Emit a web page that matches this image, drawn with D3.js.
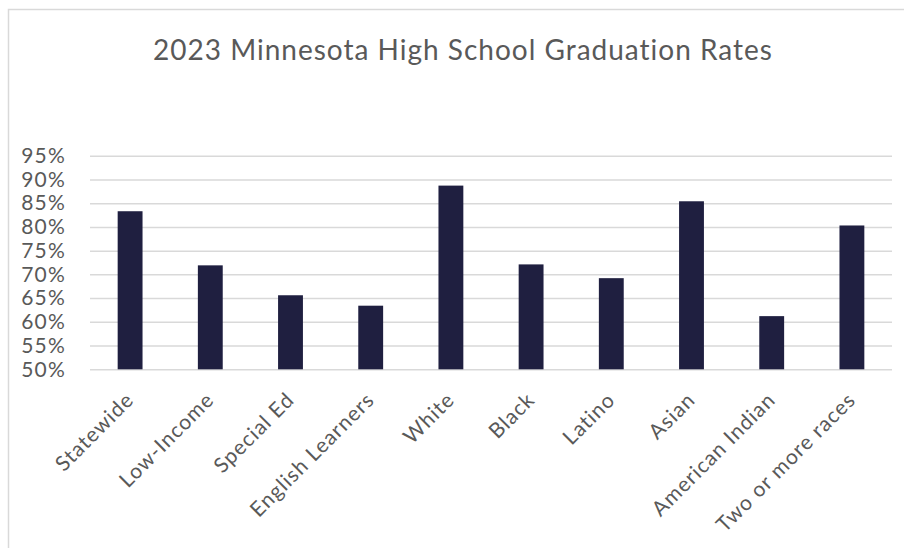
<!DOCTYPE html>
<html>
<head>
<meta charset="utf-8">
<script src="https://cdn.jsdelivr.net/npm/d3@7"></script>
<style>
	body { margin: 0; background: #fff; }
	text { font-family: Lato, "Open Sans", sans-serif; fill: #595959; }
</style>
</head>
<body>
<div id="chart"></div>
<script>
var categories = ["Statewide", "Low-Income", "Special Ed", "English Learners", "White",
	"Black", "Latino", "Asian", "American Indian", "Two or more races"]
var rates = [83.3, 71.9, 65.6, 63.4, 88.7, 72.1, 69.2, 85.4, 61.2, 80.3]
var yTicks = [50, 55, 60, 65, 70, 75, 80, 85, 90, 95]
var chartTitle = "2023 Minnesota High School Graduation Rates"

;(function() {
	var w = 904, h = 548,
		margins = {top: 155.7, bottom: 369.3, left: 90, right: 892},
		barColor = "#1f1f40",
		gridColor = "#d9d9d9",
		svg = d3.select("#chart").append("svg")
			.attr("width", w)
			.attr("height", h)

	var data = categories.map((c, i) => ({category: c, rate: rates[i]}))

	// chart frame (only the left and top edges are inside the picture)
	svg.append("path")
		.attr("d", "M8.5," + h + "V9.5H" + w)
		.attr("fill", "none")
		.attr("stroke", gridColor)
		.attr("stroke-width", 1.5)

	svg.append("text")
		.attr("x", 463)
		.attr("y", 60)
		.attr("text-anchor", "middle")
		.style("font-size", "28px")
		.style("letter-spacing", "1px")
		.text(chartTitle)

	var x = d3.scaleBand()
		.domain(categories)
		.range([margins.left, margins.right])
		.paddingInner(0.69)
		.paddingOuter(0.345)

	var y = d3.scaleLinear()
		.domain([50, 95])
		.range([margins.bottom, margins.top])

	// gridlines + y labels
	var yAxis = d3.axisLeft(y)
		.tickValues(yTicks)
		.tickSize(-(margins.right - margins.left))
		.tickPadding(24)
		.tickFormat(d => d + "%")

	svg.append("g")
		.attr("transform", "translate(" + margins.left + ",0)")
		.call(yAxis)
		.call(g => g.select(".domain").remove())
		.call(g => g.selectAll(".tick line").attr("stroke", gridColor).attr("stroke-width", 1.5))
		.call(g => g.selectAll(".tick text")
			.attr("fill", "#595959")
			.style("font-size", "21px")
			.style("letter-spacing", "1.2px")
			.style("font-family", "Lato, sans-serif"))

	// bars
	svg.selectAll("rect.bar")
		.data(data)
		.enter()
		.append("rect")
		.attr("class", "bar")
		.attr("x", d => x(d.category))
		.attr("y", d => y(d.rate))
		.attr("width", x.bandwidth())
		.attr("height", d => y(50) - y(d.rate))
		.attr("fill", barColor)

	// category labels, rotated
	svg.selectAll("text.cat")
		.data(categories)
		.enter()
		.append("text")
		.attr("class", "cat")
		.attr("text-anchor", "end")
		.attr("transform", d => "translate(" + (x(d) + x.bandwidth() / 2 + 5) + "," + (margins.bottom + 32) + ") rotate(-45)")
		.style("font-size", "21px")
		.style("letter-spacing", "1px")
		.text(d => d)
})()
</script>
</body>
</html>
